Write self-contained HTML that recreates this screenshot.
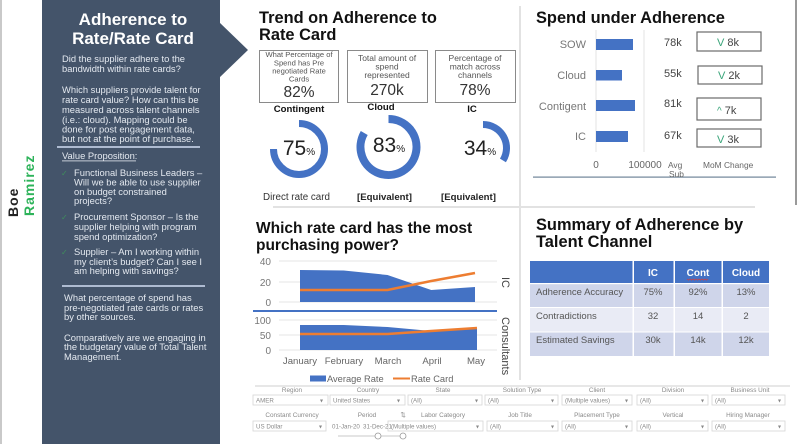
<!DOCTYPE html>
<html><head><meta charset="utf-8">
<style>
html,body{margin:0;padding:0;background:#fff;}
svg{display:block;font-family:"Liberation Sans",Arial,sans-serif;}
</style></head>
<body>
<svg width="798" height="444" viewBox="0 0 798 444" xmlns="http://www.w3.org/2000/svg">
<rect x="0" y="0" width="798" height="444" fill="#fff"/>
<!-- left border -->
<rect x="0" y="0" width="2" height="444" fill="#c9c9c9"/>
<!-- sidebar -->
<rect x="42" y="0" width="178" height="444" fill="#44546a"/>
<polygon points="219,22 248,50 219,78" fill="#44546a"/>
<g fill="#fff" font-weight="bold" font-size="17" text-anchor="middle">
<text x="133" y="25">Adherence to</text>
<text x="133" y="44">Rate/Rate Card</text>
</g>
<g fill="#e4e9f0" font-size="9.4">
<text x="62" y="62">Did the supplier adhere to the</text>
<text x="62" y="72">bandwidth within rate cards?</text>
<text x="62" y="93">Which suppliers  provide talent for</text>
<text x="62" y="103">rate card value?  How can this be</text>
<text x="62" y="113">measured across talent channels</text>
<text x="62" y="123">(i.e.: cloud). Mapping could be</text>
<text x="62" y="132.5">done for post engagement data,</text>
<text x="62" y="142">but not at the point of purchase.</text>
<text x="62" y="159">Value Proposition:</text>
<text x="74" y="176">Functional Business Leaders –</text>
<text x="74" y="185.5">Will we be able to use supplier</text>
<text x="74" y="195">on budget constrained</text>
<text x="74" y="204">projects?</text>
<text x="74" y="220">Procurement Sponsor – Is the</text>
<text x="74" y="230">supplier helping with program</text>
<text x="74" y="240">spend optimization?</text>
<text x="74" y="255">Supplier – Am I working within</text>
<text x="74" y="265">my client’s budget?  Can I see I</text>
<text x="74" y="274">am helping with savings?</text>
<text x="64" y="301">What percentage of spend has</text>
<text x="64" y="311">pre-negotiated rate cards or rates</text>
<text x="64" y="320">by other sources.</text>
<text x="64" y="341">Comparatively are we engaging in</text>
<text x="64" y="350">the budgetary value of Total Talent</text>
<text x="64" y="360">Management.</text>
</g>
<rect x="62" y="160.5" width="74" height="0.8" fill="#e4e9f0"/>
<rect x="57" y="146" width="143" height="2" fill="#aebbd1"/>
<rect x="62" y="285" width="143" height="2" fill="#aebbd1"/>
<g fill="#3f8f5c" font-size="8" font-family="DejaVu Sans,sans-serif">
<text x="61" y="176">✓</text>
<text x="61" y="220">✓</text>
<text x="61" y="255">✓</text>
</g>
<!-- name -->
<text transform="translate(18,217) rotate(-90)" font-size="14" font-weight="bold" fill="#222" letter-spacing="1">Boe</text>
<text transform="translate(34,216) rotate(-90)" font-size="14" font-weight="bold" fill="#2db35a" letter-spacing="1">Ramirez</text>

<!-- panel separators -->
<rect x="519" y="6" width="2" height="374" fill="#e2e2e2"/>
<rect x="795" y="0" width="2" height="205" fill="#9a9a9a"/>
<rect x="273" y="206" width="482" height="2" fill="#e2e2e2"/>
<rect x="533" y="176.5" width="243" height="1.2" fill="#6f8498"/>

<!-- Trend on adherence -->
<g font-weight="bold" font-size="16.4" fill="#111">
<text x="259" y="23">Trend on Adherence to</text>
<text x="259" y="40">Rate Card</text>
<text x="536" y="23">Spend under Adherence</text>
<text x="536" y="230">Summary of Adherence by</text>
<text x="536" y="247">Talent Channel</text>
</g>
<g font-weight="bold" font-size="15.5" fill="#111">
<text x="256" y="233">Which rate card has the most</text>
<text x="256" y="250">purchasing power?</text>
</g>

<g fill="none" stroke="#8a8a8a" stroke-width="1">
<rect x="259.5" y="50.5" width="79" height="52"/>
<rect x="347.5" y="50.5" width="80" height="52"/>
<rect x="435.5" y="50.5" width="80" height="52"/>
</g>
<g fill="#555" text-anchor="middle">
<g font-size="7.6">
<text x="299" y="57">What Percentage of</text>
<text x="299" y="65.5">Spend has Pre</text>
<text x="299" y="73.5">negotiated Rate</text>
<text x="299" y="81.5">Cards</text>
</g>
<g font-size="8.5">
<text x="387" y="61">Total amount of</text>
<text x="387" y="69.5">spend</text>
<text x="387" y="78">represented</text>
<text x="475" y="61">Percentage of</text>
<text x="475" y="69.5">match across</text>
<text x="475" y="78">channels</text>
</g>
<g font-size="15.5" fill="#333">
<text x="299" y="97">82%</text>
<text x="387" y="95">270k</text>
<text x="475" y="95">78%</text>
</g>
</g>
<g font-weight="bold" font-size="9.6" fill="#111" text-anchor="middle">
<text x="299" y="112">Contingent</text>
<text x="381" y="110">Cloud</text>
<text x="472" y="112">IC</text>
</g>
<!-- donuts -->
<g fill="none" stroke="#4472c4">
<path d="M299,123.5 A25.5,25.5 0 1 1 273.5,149" stroke-width="7"/>
<path d="M388.5,119 A28,28 0 1 1 364.25,133" stroke-width="8"/>
<path d="M483,124.5 A23.5,23.5 0 0 1 502.93,160.45" stroke-width="7"/>
</g>
<g fill="#222" text-anchor="middle">
<text x="299" y="155"><tspan font-size="21">75</tspan><tspan font-size="10">%</tspan></text>
<text x="389" y="152"><tspan font-size="21">83</tspan><tspan font-size="10">%</tspan></text>
<text x="480" y="155"><tspan font-size="21">34</tspan><tspan font-size="10">%</tspan></text>
</g>
<text x="263" y="200" font-size="9.8" fill="#333">Direct rate card</text>
<g font-size="9.6" font-weight="bold" fill="#222">
<text x="357" y="200">[Equivalent]</text>
<text x="441" y="200">[Equivalent]</text>
</g>

<!-- Spend under adherence -->
<rect x="595.5" y="30" width="1" height="122" fill="#e3e3e3"/>
<rect x="643.5" y="30" width="1" height="122" fill="#e3e3e3"/>
<g fill="#4472c4">
<rect x="596" y="39" width="37" height="11"/>
<rect x="596" y="70" width="26" height="10.5"/>
<rect x="596" y="100" width="39" height="11"/>
<rect x="596" y="131" width="32" height="11"/>
</g>
<g font-size="11" fill="#777" text-anchor="end">
<text x="586" y="48">SOW</text>
<text x="586" y="79">Cloud</text>
<text x="586" y="110">Contigent</text>
<text x="586" y="140">IC</text>
</g>
<g font-size="11" fill="#444">
<text x="664" y="46">78k</text>
<text x="664" y="77">55k</text>
<text x="664" y="107">81k</text>
<text x="664" y="139">67k</text>
</g>
<g fill="none" stroke="#6a6a6a" stroke-width="1.2">
<rect x="697" y="32" width="64" height="19"/>
<rect x="698" y="66" width="64" height="18"/>
<rect x="697" y="98" width="64" height="22"/>
<rect x="697" y="129" width="64" height="18"/>
</g>
<g font-size="11" fill="#444">
<text x="717" y="46"><tspan fill="#3aa57a">V</tspan> 8k</text>
<text x="718" y="79"><tspan fill="#3aa57a">V</tspan> 2k</text>
<text x="717" y="114"><tspan fill="#3aa57a" font-size="10">^</tspan> 7k</text>
<text x="717" y="143"><tspan fill="#3aa57a">V</tspan> 3k</text>
</g>
<g font-size="10" fill="#666">
<text x="596" y="168" text-anchor="middle">0</text>
<text x="645" y="168" text-anchor="middle">100000</text>
</g>
<g font-size="8.4" fill="#666">
<text x="668" y="168">Avg</text>
<text x="669" y="177">Sub</text>
<text x="703" y="168">MoM Change</text>
</g>

<!-- rate card chart -->
<g stroke="#e6e6e6" stroke-width="1">
<line x1="279" y1="261" x2="497" y2="261"/>
<line x1="279" y1="282" x2="497" y2="282"/>
<line x1="279" y1="302" x2="497" y2="302"/>
<line x1="279" y1="320" x2="497" y2="320"/>
<line x1="279" y1="335" x2="497" y2="335"/>
<line x1="279" y1="350" x2="497" y2="350"/>
</g>
<g font-size="10" fill="#777" text-anchor="end">
<text x="271" y="265">40</text>
<text x="271" y="286">20</text>
<text x="271" y="306">0</text>
<text x="271" y="324">100</text>
<text x="271" y="339">50</text>
<text x="271" y="354">0</text>
</g>
<polygon points="300,302 300,270 343.75,270.5 387.5,275 431.25,290 475,287 475,302" fill="#4472c4"/>
<polyline points="300,290 343.75,290 387.5,290 431.25,281 475,273" fill="none" stroke="#ed7d31" stroke-width="2.5"/>
<polygon points="300,350 300,325 343.75,325 387.5,327 431.25,331 477,328 477,350" fill="#4472c4"/>
<polyline points="300,334 343.75,334 387.5,334 431.25,331 477,328" fill="none" stroke="#ed7d31" stroke-width="2.5"/>
<rect x="253" y="310" width="244" height="2" fill="#4472c4"/>
<g font-size="9.6" fill="#666" text-anchor="middle">
<text x="300" y="364">January</text>
<text x="344" y="364">February</text>
<text x="388" y="364">March</text>
<text x="432" y="364">April</text>
<text x="476" y="364">May</text>
</g>
<g font-size="11" fill="#444">
<text transform="translate(502,277) rotate(90)">IC</text>
<text transform="translate(502,317) rotate(90)">Consultants</text>
</g>
<rect x="310" y="375.5" width="16" height="6" fill="#4472c4"/>
<line x1="393" y1="378.5" x2="410" y2="378.5" stroke="#ed7d31" stroke-width="2"/>
<g font-size="9.3" fill="#666">
<text x="327" y="382">Average Rate</text>
<text x="411" y="382">Rate Card</text>
</g>

<!-- summary table -->
<rect x="530" y="261" width="239" height="22" fill="#4472c4"/>
<rect x="530" y="283" width="239" height="24" fill="#cfd5ea"/>
<rect x="530" y="307" width="239" height="25" fill="#e9ebf5"/>
<rect x="530" y="332" width="239" height="24" fill="#cfd5ea"/>
<g fill="#fff">
<rect x="632.5" y="261" width="1.5" height="95"/>
<rect x="673.5" y="261" width="1.5" height="95"/>
<rect x="721.5" y="261" width="1.5" height="95"/>
<rect x="530" y="283" width="239" height="1.2"/>
<rect x="530" y="307" width="239" height="1"/>
<rect x="530" y="331.5" width="239" height="1"/>
</g>
<g font-size="10" font-weight="bold" fill="#fff" text-anchor="middle">
<text x="653" y="276">IC</text>
<text x="698" y="276">Cont</text>
<text x="746" y="276">Cloud</text>
</g>
<path d="M687,279 l1.5,1.2 1.5,-1.2 1.5,1.2 1.5,-1.2 1.5,1.2 1.5,-1.2 1.5,1.2 1.5,-1.2 1.5,1.2 1.5,-1.2 1.5,1.2 1.5,-1.2 1.5,1.2 1.5,-1.2" fill="none" stroke="#d04040" stroke-width="0.7"/>
<g font-size="9.5" fill="#555">
<text x="536" y="295">Adherence Accuracy</text>
<text x="536" y="319">Contradictions</text>
<text x="536" y="343">Estimated Savings</text>
</g>
<g font-size="9.5" fill="#555" text-anchor="middle">
<text x="653" y="295">75%</text><text x="698" y="295">92%</text><text x="746" y="295">13%</text>
<text x="653" y="319">32</text><text x="698" y="319">14</text><text x="746" y="319">2</text>
<text x="653" y="343">30k</text><text x="698" y="343">14k</text><text x="746" y="343">12k</text>
</g>

<!-- filters -->
<rect x="255" y="385.5" width="535" height="1" fill="#cfcfcf"/>
<g font-size="6.4" fill="#8a8a8a" text-anchor="middle">
<text x="292" y="392">Region</text>
<text x="368" y="392">Country</text>
<text x="443" y="392">State</text>
<text x="522" y="392">Solution Type</text>
<text x="597" y="392">Client</text>
<text x="673" y="392">Division</text>
<text x="750" y="392">Business Unit</text>
<text x="292" y="417">Constant Currency</text>
<text x="367" y="417">Period</text>
<text x="403" y="417">⇅</text>
<text x="443" y="417">Labor Category</text>
<text x="520" y="417">Job Title</text>
<text x="597" y="417">Placement Type</text>
<text x="673" y="417">Vertical</text>
<text x="748" y="417">Hiring Manager</text>
</g>
<g fill="none" stroke="#d5d5d5" stroke-width="0.8">
<rect x="253" y="395" width="75" height="10"/>
<rect x="330" y="395" width="75" height="10"/>
<rect x="408" y="395" width="74" height="10"/>
<rect x="485" y="395" width="73" height="10"/>
<rect x="562" y="395" width="70" height="10"/>
<rect x="637" y="395" width="71" height="10"/>
<rect x="712" y="395" width="73" height="10"/>
<rect x="253" y="421" width="73" height="10"/>
<rect x="388" y="421" width="95" height="10"/>
<rect x="487" y="421" width="71" height="10"/>
<rect x="562" y="421" width="70" height="10"/>
<rect x="637" y="421" width="71" height="10"/>
<rect x="712" y="421" width="73" height="10"/>
</g>
<g font-size="6.2" fill="#8a8a8a">
<text x="256" y="402.5">AMER</text>
<text x="333" y="402.5">United States</text>
<text x="411" y="402.5">(All)</text>
<text x="488" y="402.5">(All)</text>
<text x="565" y="402.5">(Multiple values)</text>
<text x="640" y="402.5">(All)</text>
<text x="715" y="402.5">(All)</text>
<text x="256" y="428.5">US Dollar</text>
<text x="332" y="428.5">01-Jan-20</text>
<text x="363" y="428.5">31-Dec-21</text>
<text x="391" y="428.5">(Multiple values)</text>
<text x="490" y="428.5">(All)</text>
<text x="565" y="428.5">(All)</text>
<text x="640" y="428.5">(All)</text>
<text x="715" y="428.5">(All)</text>
</g>
<g font-size="6" fill="#888">
<text x="320" y="402.5">▾</text><text x="397" y="402.5">▾</text><text x="475" y="402.5">▾</text>
<text x="551" y="402.5">▾</text><text x="625" y="402.5">▾</text><text x="701" y="402.5">▾</text>
<text x="778" y="402.5">▾</text>
<text x="319" y="428.5">▾</text><text x="476" y="428.5">▾</text><text x="551" y="428.5">▾</text>
<text x="625" y="428.5">▾</text><text x="701" y="428.5">▾</text><text x="778" y="428.5">▾</text>
</g>
<line x1="338" y1="436" x2="405" y2="436" stroke="#c8c8c8" stroke-width="1"/>
<circle cx="378" cy="436" r="3" fill="#fff" stroke="#999" stroke-width="0.8"/>
<circle cx="403" cy="436" r="3" fill="#fff" stroke="#999" stroke-width="0.8"/>
</svg>
</body></html>
